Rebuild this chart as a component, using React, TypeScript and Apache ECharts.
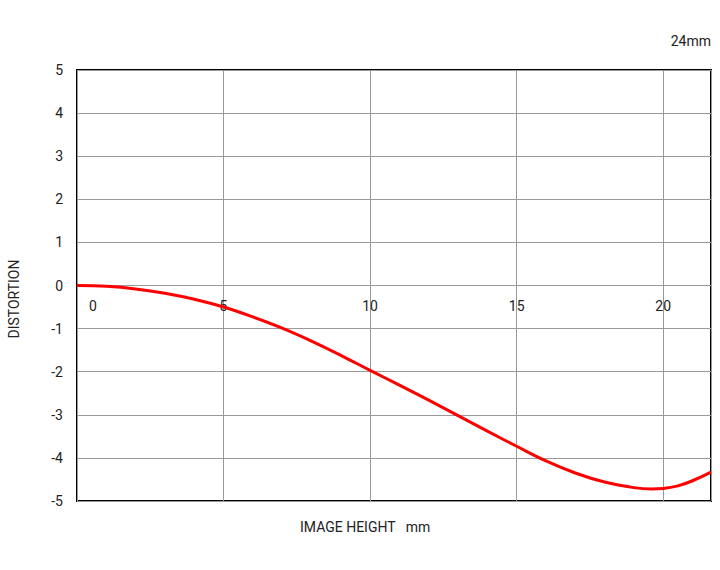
import React, { useEffect, useRef } from "react";
import * as echarts from "echarts";

const imageHeight = [0, 1, 2, 3, 4, 5, 6, 7, 8, 9, 10, 11, 12, 13, 14, 15, 16, 17, 18, 19, 19.6, 20, 20.5, 21, 21.63];
const distortion = [0, -0.02, -0.08, -0.18, -0.32, -0.5, -0.73, -0.99, -1.29, -1.62, -1.97, -2.31, -2.66, -3.02, -3.38, -3.73, -4.07, -4.35, -4.56, -4.69, -4.72, -4.71, -4.65, -4.53, -4.33];
const yTicks = [-5, -4, -3, -2, -1, 0, 1, 2, 3, 4, 5];
const xMax = 21.63;
const title = "24mm";
const xName = "IMAGE HEIGHT   mm";
const yName = "DISTORTION";

export default function App() {
  const ref = useRef<HTMLDivElement>(null);
  useEffect(() => {
    const chart = echarts.init(ref.current!, null, { renderer: "svg" });
    const font = "Roboto, 'Noto Sans', sans-serif";
    const plotTop = 70;
    const plotBottom = 69;
    const plotH = 570 - plotTop - plotBottom;
    chart.setOption({
      animation: false,
      textStyle: { fontFamily: font },
      grid: { left: 77, top: plotTop, right: 9, bottom: plotBottom, show: true, borderColor: "#000", borderWidth: 2, backgroundColor: "transparent" },
      xAxis: {
        type: "value",
        min: 0,
        max: xMax,
        interval: 5,
        offset: -plotH / 2,
        axisLine: { show: false, onZero: false },
        axisTick: { show: false },
        splitLine: { show: true, lineStyle: { color: "#999", width: 1 } },
        axisLabel: {
          show: true,
          margin: 13,
          fontSize: 14,
          color: "#222",
          fontFamily: font,
          showMaxLabel: false,
          formatter: (v: number) => (v === 0 ? "{z|0}" : String(v)),
          rich: { z: { padding: [0, 0, 0, 32], fontSize: 14, color: "#222", fontFamily: font } },
        },
      },
      yAxis: {
        type: "value",
        min: yTicks[0],
        max: yTicks[yTicks.length - 1],
        interval: 1,
        axisLine: { show: false },
        axisTick: { show: false },
        splitLine: { show: true, lineStyle: { color: "#999", width: 1 } },
        axisLabel: { margin: 14, fontSize: 14, color: "#222", fontFamily: font },
      },
      series: [
        {
          type: "line",
          data: imageHeight.map((x, i) => [x, distortion[i]]),
          smooth: 0.4,
          showSymbol: false,
          lineStyle: { color: "#ff0000", width: 3 },
          clip: true,
        },
      ],
      graphic: [
        { type: "text", right: 9, top: 34, style: { text: title, fontSize: 14, fill: "#222", fontFamily: font } },
        { type: "text", left: 300, top: 520, style: { text: xName, fontSize: 14, fill: "#222", fontFamily: font } },
        { type: "text", x: 14, y: 299, rotation: Math.PI / 2, style: { text: yName, fontSize: 14, fill: "#222", fontFamily: font, align: "center", verticalAlign: "middle" } },
      ],
    });
    return () => chart.dispose();
  }, []);
  return <div ref={ref} style={{ width: 720, height: 570, position: "absolute", left: 0, top: 0 }} />;
}
